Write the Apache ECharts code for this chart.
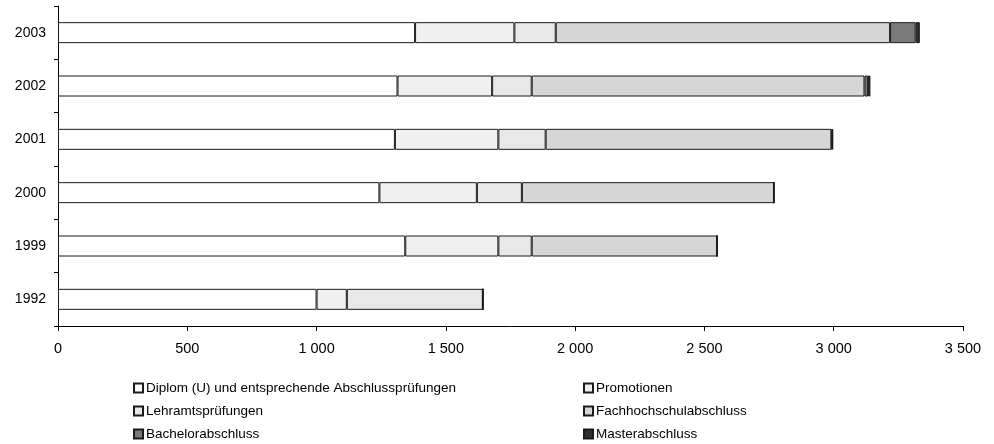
<!DOCTYPE html>
<html>
<head>
<meta charset="utf-8">
<script src="https://cdn.jsdelivr.net/npm/echarts@6/dist/echarts.min.js"></script>
<style>html,body{margin:0;padding:0;background:#fff}#c{width:994px;height:444px}</style>
</head>
<body>
<div id="c"></div>
<script>
const years = ['1992', '1999', '2000', '2001', '2002', '2003'];
const diplom = [1000, 1343, 1243, 1303, 1313, 1381];
const promotionen = [117, 360, 377, 400, 366, 384];
const lehramt = [526, 129, 174, 183, 153, 160];
const fachhochschule = [0, 717, 975, 1105, 1287, 1293];
const bachelor = [0, 0, 0, 3, 14, 99];
const master = [0, 0, 0, 4, 9, 16];
const seriesNames = ['Diplom (U) und entsprechende Abschlussprüfungen', 'Promotionen', 'Lehramtsprüfungen', 'Fachhochschulabschluss', 'Bachelorabschluss', 'Masterabschluss'];
const xTicks = [0, 500, 1000, 1500, 2000, 2500, 3000, 3500];

const fills = ['#ffffff', '#f0f0f0', '#e8e8e8', '#d6d6d6', '#7a7a7a', '#2e2e2e'];
const values = [diplom, promotionen, lehramt, fachhochschule, bachelor, master];
const font = 'Liberation Sans, Arial, sans-serif';

const chart = echarts.init(document.getElementById('c'), null, {renderer: 'canvas'});
const legendBase = {orient: 'vertical', top: 376, height: 70, itemGap: 9, itemWidth: 9, itemHeight: 9, icon: 'rect',
  textStyle: {color: '#000', fontFamily: font, fontSize: 13.5, lineHeight: 14, padding: [0, 0, 0, -2]}};
chart.setOption({
  animation: false,
  backgroundColor: '#fff',
  grid: {left: 58, top: 6, width: 905, height: 320, containLabel: false},
  xAxis: {
    type: 'value', min: 0, max: 3500, interval: 500,
    axisLine: {show: true, lineStyle: {color: '#000', width: 1}},
    axisTick: {show: true, length: 5, lineStyle: {color: '#000'}},
    splitLine: {show: false},
    axisLabel: {color: '#000', fontFamily: font, fontSize: 14.5, margin: 15,
      formatter: v => String(v).replace(/\B(?=(\d{3})+(?!\d))/g, ' ')}
  },
  yAxis: {
    type: 'category', data: years,
    axisLine: {show: true, lineStyle: {color: '#000', width: 1}},
    axisTick: {show: true, length: 4, lineStyle: {color: '#000'}},
    axisLabel: {color: '#000', fontFamily: font, fontSize: 14, margin: 12}
  },
  legend: [
    Object.assign({left: 128, data: [seriesNames[0], seriesNames[2], seriesNames[4]]}, legendBase),
    Object.assign({left: 578, data: [seriesNames[1], seriesNames[3], seriesNames[5]]}, legendBase)
  ],
  series: seriesNames.map((n, i) => ({
    name: n, type: 'bar', stack: 'total', barWidth: 21,
    data: values[i],
    itemStyle: {color: fills[i], borderColor: '#1a1a1a', borderWidth: 1},
    emphasis: {disabled: true}
  }))
});
</script>
</body>
</html>
